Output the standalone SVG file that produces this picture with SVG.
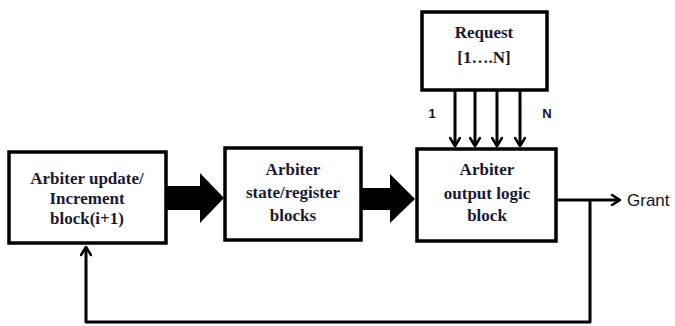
<svg xmlns="http://www.w3.org/2000/svg" width="675" height="326" viewBox="0 0 675 326">
<style>
.box{fill:#fff;stroke:#000;stroke-width:3.5}
.t{font-family:"Liberation Serif","Times New Roman",serif;font-weight:bold;font-size:17px;fill:#1a1a33;text-anchor:middle}
.s{font-family:"Liberation Sans",Arial,sans-serif;fill:#111122}
.ln{fill:none;stroke:#000;stroke-width:3;stroke-linejoin:round}
.blk{fill:#000}
</style>
<defs>
<marker id="chev" viewBox="0 0 12 12" refX="10" refY="6" markerWidth="12" markerHeight="12" markerUnits="userSpaceOnUse" orient="auto">
<path d="M2,1 L10,6 L2,11" fill="none" stroke="#000" stroke-width="2.6" stroke-linecap="round" stroke-linejoin="round"/>
</marker>
</defs>
<g id="connectors">
<polygon class="blk" points="167,186 200,186 200,173 224,198 200,223 200,210 167,210"/>
<polygon class="blk" points="362,188 390,188 390,174 415,199 390,223 390,210 362,210"/>
<path class="ln" d="M556,200 L620,200" marker-end="url(#chev)"/>
<path class="ln" d="M590,200 L590,322 L86,322 L86,247" marker-end="url(#chev)"/>
<path class="ln" d="M455,90 L455,146" marker-end="url(#chev)"/>
<path class="ln" d="M475,90 L475,146" marker-end="url(#chev)"/>
<path class="ln" d="M497,90 L497,146" marker-end="url(#chev)"/>
<path class="ln" d="M520,90 L520,146" marker-end="url(#chev)"/>
<text class="s" x="432" y="118" font-size="13" font-weight="bold" text-anchor="middle">1</text>
<text class="s" x="547" y="118" font-size="13" font-weight="bold" text-anchor="middle">N</text>
<text class="s" x="627" y="206" font-size="17">Grant</text>
</g>
<g id="update">
<rect class="box" x="9" y="152" width="157" height="91"/>
<text class="t" x="87" y="184">Arbiter update/</text>
<text class="t" x="87" y="204">Increment</text>
<text class="t" x="87" y="224">block(i+1)</text>
</g>
<g id="state">
<rect class="box" x="225" y="148" width="136" height="92"/>
<text class="t" x="293" y="175">Arbiter</text>
<text class="t" x="293" y="198">state/register</text>
<text class="t" x="293" y="221">blocks</text>
</g>
<g id="output">
<rect class="box" x="417" y="149" width="139" height="92"/>
<text class="t" x="487" y="175">Arbiter</text>
<text class="t" x="487" y="199">output logic</text>
<text class="t" x="487" y="221">block</text>
</g>
<g id="request">
<rect class="box" x="422" y="12" width="125" height="78"/>
<text class="t" x="484" y="38">Request</text>
<text class="t" x="484" y="63">[1….N]</text>
</g>
</svg>
